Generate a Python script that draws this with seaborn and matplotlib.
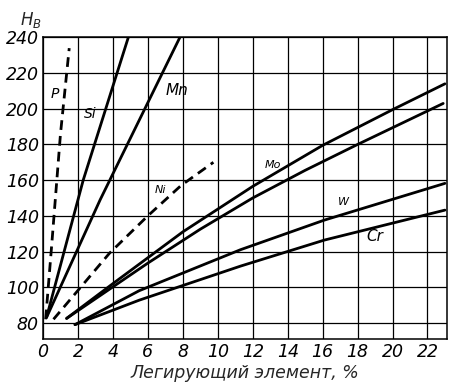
import matplotlib
matplotlib.use("Agg")
import matplotlib.pyplot as plt
import seaborn as sns
import pandas as pd

# Данные (HB в зависимости от % легирующего элемента)
p_x = [0.15, 0.5, 1.0, 1.5]
p_y = [82, 124, 186, 234]

si_x = [0.2, 2.3, 4.88]
si_y = [83, 160, 240]

mn_x = [0.2, 3.27, 7.83]
mn_y = [83, 149, 240]

ni_x = [0.6, 3.8, 6.0, 7.9, 9.75]
ni_y = [82, 119, 140, 157, 170]

mo_x = [1.35, 4.0, 8.0, 12.0, 16.0, 20.0, 23.0]
mo_y = [82.5, 102, 131, 156.5, 179.5, 199.5, 214]

x2_x = [1.35, 6.0, 9.0, 12.0, 15.0, 18.0, 22.9]
x2_y = [82.5, 113.5, 132.5, 150, 165.5, 180, 203]

w_x = [1.83, 5.5, 11.3, 16.1, 23.0]
w_y = [79, 98, 121, 137.6, 158.2]

cr_x = [1.83, 5.5, 11.3, 16.1, 23.0]
cr_y = [79, 92.7, 111.8, 126.4, 143.2]

series = {
    "P": (p_x, p_y, "--"),
    "Si": (si_x, si_y, "-"),
    "Mn": (mn_x, mn_y, "-"),
    "Ni": (ni_x, ni_y, "--"),
    "Mo": (mo_x, mo_y, "-"),
    "Mo2": (x2_x, x2_y, "-"),
    "W": (w_x, w_y, "-"),
    "Cr": (cr_x, cr_y, "-"),
}

# подписи линий
labels = ["P", "Si", "Mn", "Ni", "Mo", "W", "Cr"]
label_x = [0.45, 2.35, 7.0, 6.4, 12.7, 16.9, 18.5]
label_y = [206, 195, 208, 153, 167, 146, 126]
label_size = [10, 10, 11, 8, 8, 8, 11]

x_ticks = list(range(0, 23, 2))
y_ticks = list(range(80, 241, 20))

sns.set_theme(style="whitegrid")
plt.rcParams["font.family"] = ["DejaVu Sans"]

fig = plt.figure(figsize=(4.5, 3.86), dpi=100)
ax = fig.add_axes([0.0956, 0.122, 0.897, 0.781])
ax.set_facecolor("white")

for name, (xs, ys, ls) in series.items():
    d = pd.DataFrame({"x": xs, "y": ys})
    sns.lineplot(data=d, x="x", y="y", ax=ax, color="black", linewidth=2.0,
                 linestyle=ls, sort=False, estimator=None)
    if ls == "--":
        ax.lines[-1].set_dashes((3.5, 2.2))

for t, lx, ly, fs in zip(labels, label_x, label_y, label_size):
    ax.text(lx, ly, t, fontsize=fs, fontstyle="italic", color="black")

ax.set_xlim(0, 23.1)
ax.set_ylim(71, 240)
ax.set_xticks(x_ticks)
ax.set_yticks(y_ticks)
ax.grid(True, color="black", linewidth=0.9)
for s in ax.spines.values():
    s.set_color("black")
    s.set_linewidth(1.1)
ax.tick_params(axis="both", length=0, pad=3, labelsize=12.5, colors="black")
for lab in ax.get_xticklabels() + ax.get_yticklabels():
    lab.set_fontstyle("italic")

ax.set_xlabel("Легирующий элемент, %", fontsize=12.5, fontstyle="italic", labelpad=2)
ax.set_ylabel("")
fig.text(0.045, 0.935, "H$_B$", fontsize=12, fontstyle="italic")

fig.savefig("out.png", dpi=100)
